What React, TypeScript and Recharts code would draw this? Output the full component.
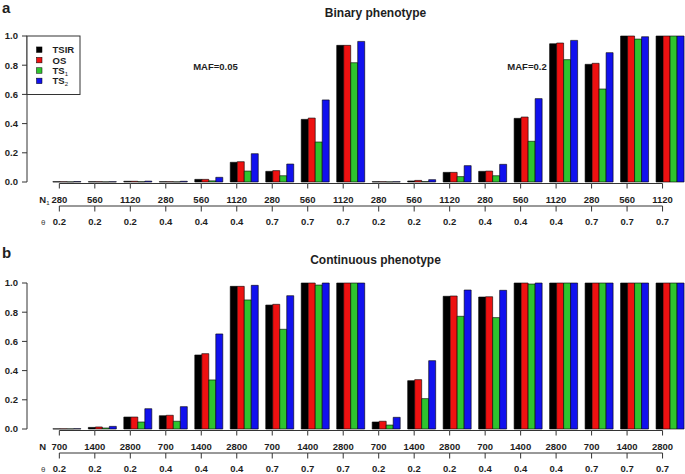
import React from 'react';
import { BarChart, Bar, XAxis, YAxis } from 'recharts';

// ---------- data ----------
const N_A = [280, 560, 1120, 280, 560, 1120, 280, 560, 1120, 280, 560, 1120, 280, 560, 1120, 280, 560, 1120];
const N_B = [700, 1400, 2800, 700, 1400, 2800, 700, 1400, 2800, 700, 1400, 2800, 700, 1400, 2800, 700, 1400, 2800];
const THETA = ['0.2', '0.2', '0.2', '0.4', '0.4', '0.4', '0.7', '0.7', '0.7', '0.2', '0.2', '0.2', '0.4', '0.4', '0.4', '0.7', '0.7', '0.7'];
const Y_TICKS = [0, 0.2, 0.4, 0.6, 0.8, 1.0];

const A_TSIR = [0.002, 0.002, 0.005, 0.002, 0.018, 0.135, 0.073, 0.429, 0.936, 0.002, 0.007, 0.066, 0.073, 0.436, 0.947, 0.806, 1.0, 1.0];
const A_OS = [0.002, 0.002, 0.005, 0.002, 0.018, 0.139, 0.078, 0.438, 0.936, 0.002, 0.011, 0.066, 0.075, 0.445, 0.952, 0.813, 1.0, 1.0];
const A_TS1 = [0.001, 0.001, 0.002, 0.001, 0.008, 0.075, 0.043, 0.274, 0.817, 0.001, 0.003, 0.037, 0.043, 0.279, 0.838, 0.637, 0.979, 1.0];
const A_TS2 = [0.003, 0.002, 0.006, 0.005, 0.032, 0.194, 0.123, 0.562, 0.963, 0.002, 0.016, 0.112, 0.121, 0.571, 0.97, 0.886, 0.995, 1.0];

const B_TSIR = [0.001, 0.011, 0.082, 0.091, 0.507, 0.977, 0.849, 1.0, 1.0, 0.048, 0.331, 0.909, 0.904, 1.0, 1.0, 1.0, 1.0, 1.0];
const B_OS = [0.001, 0.014, 0.082, 0.094, 0.516, 0.977, 0.854, 1.0, 1.0, 0.053, 0.338, 0.911, 0.906, 1.0, 1.0, 1.0, 1.0, 1.0];
const B_TS1 = [0.001, 0.007, 0.048, 0.053, 0.336, 0.884, 0.683, 0.986, 1.0, 0.027, 0.208, 0.772, 0.763, 0.993, 1.0, 1.0, 1.0, 1.0];
const B_TS2 = [0.002, 0.018, 0.139, 0.153, 0.651, 0.984, 0.913, 1.0, 1.0, 0.08, 0.468, 0.952, 0.95, 1.0, 1.0, 1.0, 1.0, 1.0];

const SERIES = [
  { key: 'TSIR', label: 'TSIR', sub: '', color: '#000000' },
  { key: 'OS', label: 'OS', sub: '', color: '#ee1111' },
  { key: 'TS1', label: 'TS', sub: '1', color: '#2ec42e' },
  { key: 'TS2', label: 'TS', sub: '2', color: '#1111ee' },
];

function buildRows(n: number[], tsir: number[], os: number[], ts1: number[], ts2: number[]) {
  return n.map((v, i) => ({ key: 'g' + i, n: v, theta: THETA[i], TSIR: tsir[i], OS: os[i], TS1: ts1[i], TS2: ts2[i] }));
}
const ROWS_A = buildRows(N_A, A_TSIR, A_OS, A_TS1, A_TS2);
const ROWS_B = buildRows(N_B, B_TSIR, B_OS, B_TS1, B_TS2);

// ---------- layout ----------
const FONT = '"Liberation Sans", Arial, Helvetica, sans-serif';
const TXT = '#1e1e1e';
const LINE = '#333333';
const W = 688;
const PLOT_TOP = 36;
const PLOT_H = 146;
const Y_AXIS_W = 27;
const BAND_START = 49.3;
const N_GROUPS = 18;
const STEP = (W - BAND_START) / N_GROUPS;
const TICK_SHIFT = -7.7;
const FS = 9.5;

function makeTick(labels: number[], nSub: string) {
  return (props: any) => {
    const { x, y, payload } = props;
    const i = props.index ?? payload.index;
    const tx = x + TICK_SHIFT;
    const last = i === N_GROUPS - 1;
    return (
      <g>
        {!last && <line x1={tx} x2={tx + STEP} y1={y + 1.5} y2={y + 1.5} stroke={LINE} strokeWidth={1} />}
        <line x1={tx} x2={tx} y1={y + 1.5} y2={y + 6.5} stroke={LINE} strokeWidth={1} />
        <text x={tx} y={y + 17.5} dy="0.36em" textAnchor="middle" fontFamily={FONT} fontSize={FS} fontWeight="bold" fill={TXT}>
          {labels[i]}
        </text>
        {!last && <line x1={tx} x2={tx + STEP} y1={y + 24} y2={y + 24} stroke={LINE} strokeWidth={1} />}
        <line x1={tx} x2={tx} y1={y + 24} y2={y + 29.5} stroke={LINE} strokeWidth={1} />
        <text x={tx} y={y + 40} dy="0.36em" textAnchor="middle" fontFamily={FONT} fontSize={FS} fontWeight="bold" fill={TXT}>
          {THETA[i]}
        </text>
        {i === 0 && (
          <text x={tx - 20} y={y + 17.5} dy="0.36em" fontFamily={FONT} fontSize={FS} fontWeight="bold" fill={TXT}>
            N
            {nSub && (
              <tspan fontSize={6} fontWeight="normal" dy={2}>
                {nSub}
              </tspan>
            )}
          </text>
        )}
        {i === 0 && (
          <text x={tx - 16} y={y + 40} dy="0.36em" textAnchor="middle" fontFamily={FONT} fontSize={8} fill="#444">
            θ
          </text>
        )}
      </g>
    );
  };
}

function Panel({ rows, labels, nSub, height }: { rows: any[]; labels: number[]; nSub: string; height: number }) {
  return (
    <BarChart
      width={W}
      height={height}
      data={rows}
      margin={{ top: PLOT_TOP, right: 0, bottom: 0, left: 0 }}
      barCategoryGap="10%"
      barGap={0}
    >
      <XAxis
        dataKey="key"
        interval={0}
        axisLine={false}
        tickLine={false}
        tickSize={0}
        tickMargin={0}
        height={height - PLOT_TOP - PLOT_H}
        padding={{ left: BAND_START - Y_AXIS_W, right: 0 }}
        tick={makeTick(labels, nSub)}
      />
      <YAxis
        type="number"
        domain={[0, 1]}
        ticks={Y_TICKS}
        width={Y_AXIS_W}
        tickSize={5}
        tickMargin={4}
        axisLine={{ stroke: LINE, strokeWidth: 1 }}
        tickLine={{ stroke: LINE, strokeWidth: 1 }}
        tickFormatter={(v: number) => v.toFixed(1)}
        tick={{ fontFamily: FONT, fontSize: FS, fontWeight: 'bold', fill: TXT }}
      />
      {SERIES.map((s) => (
        <Bar key={s.key} dataKey={s.key} fill={s.color} stroke="#000" strokeWidth={0.6} isAnimationActive={false} />
      ))}
    </BarChart>
  );
}

function Overlay() {
  const t = { fontFamily: FONT, fill: TXT, fontWeight: 'bold' as const };
  return (
    <svg width={685} height={474} style={{ position: 'absolute', left: 0, top: 0, pointerEvents: 'none' }}>
      <text x={2} y={13} fontSize={15} {...t}>a</text>
      <text x={2} y={258} fontSize={15} {...t}>b</text>
      <text x={375.5} y={17.2} fontSize={12} textAnchor="middle" {...t}>Binary phenotype</text>
      <text x={375.5} y={264.2} fontSize={12} textAnchor="middle" {...t}>Continuous phenotype</text>
      <text x={215.5} y={70.3} fontSize={FS} textAnchor="middle" {...t}>MAF=0.05</text>
      <text x={527} y={70.3} fontSize={FS} textAnchor="middle" {...t}>MAF=0.2</text>
      <rect x={27} y={36} width={53} height={58.5} fill="#fff" stroke={LINE} strokeWidth={1} />
      {SERIES.map((s, i) => (
        <g key={s.key}>
          <rect x={36.5} y={49.7 + i * 10.4 - 2.75} width={5.5} height={5.5} fill={s.color} stroke="#000" strokeWidth={0.5} />
          <text x={52.5} y={49.7 + i * 10.4} dy="0.36em" fontSize={FS} {...t}>
            {s.label}
            {s.sub && (
              <tspan fontSize={6} fontWeight="normal" dy={2}>
                {s.sub}
              </tspan>
            )}
          </text>
        </g>
      ))}
    </svg>
  );
}

export default function App() {
  return (
    <div style={{ position: 'fixed', left: 0, top: 0, width: 685, height: 474, overflow: 'hidden', background: '#fff' }}>
      <div style={{ position: 'absolute', left: 0, top: 0 }}>
        <Panel rows={ROWS_A} labels={N_A} nSub="1" height={240} />
      </div>
      <div style={{ position: 'absolute', left: 0, top: 247 }}>
        <Panel rows={ROWS_B} labels={N_B} nSub="" height={227} />
      </div>
      <Overlay />
    </div>
  );
}
